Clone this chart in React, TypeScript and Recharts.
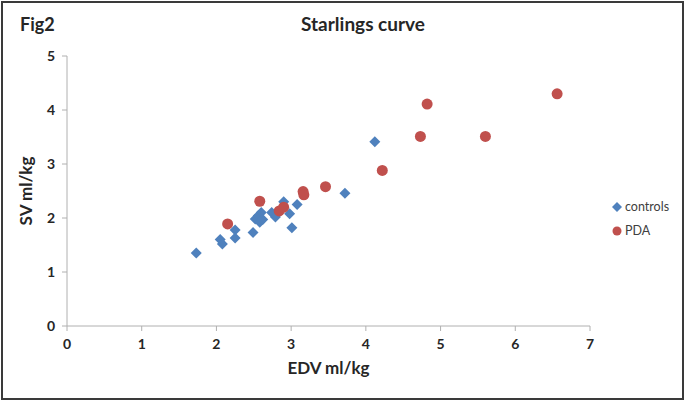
import React from 'react';
import { ScatterChart, Scatter, XAxis, YAxis, Label } from 'recharts';

const controlsEDV = [1.73, 2.05, 2.08, 2.25, 2.25, 2.49, 2.52, 2.56, 2.58, 2.62, 2.60, 2.74, 2.79, 2.90, 2.98, 3.01, 3.08, 3.72, 4.12];
const controlsSV = [1.35, 1.60, 1.52, 1.78, 1.63, 1.73, 1.98, 2.04, 1.92, 1.97, 2.10, 2.10, 2.02, 2.30, 2.08, 1.82, 2.25, 2.46, 3.41];
const pdaEDV = [2.15, 2.58, 2.84, 2.90, 3.16, 3.17, 3.46, 4.22, 4.73, 4.82, 5.60, 6.56];
const pdaSV = [1.89, 2.31, 2.13, 2.20, 2.49, 2.43, 2.58, 2.88, 3.51, 4.11, 3.51, 4.30];
const xTicks = [0, 1, 2, 3, 4, 5, 6, 7];
const yTicks = [0, 1, 2, 3, 4, 5];

const controls = controlsEDV.map((x, i) => ({ x, y: controlsSV[i] }));
const pda = pdaEDV.map((x, i) => ({ x, y: pdaSV[i] }));

const BLUE = '#4F81BD';
const RED = '#C0504D';
const FONT = 'Lato, "Open Sans", sans-serif';

const Diamond = (props: any) => {
  const { cx, cy } = props;
  const r = 5.5;
  return <polygon points={`${cx},${cy - r} ${cx + r},${cy} ${cx},${cy + r} ${cx - r},${cy}`} fill={BLUE} />;
};
const Dot = (props: any) => {
  const { cx, cy } = props;
  return <circle cx={cx} cy={cy} r={5.5} fill={RED} />;
};

const tickStyle = { fontFamily: FONT, fontSize: 14, fontWeight: 700, fill: '#262626' };

export default function App() {
  return (
    <div style={{ position: 'absolute', left: 0, top: 0, width: 685, height: 401, background: '#fff', fontFamily: FONT }}>
      <ScatterChart width={685} height={401} margin={{ top: 56, right: 95, bottom: 35, left: 17 }}>
        <XAxis
          type="number"
          dataKey="x"
          domain={[0, 7]}
          ticks={xTicks}
          interval={0}
          stroke="#b0b0b0"
          tickSize={5}
          tickMargin={8}
          tick={tickStyle}
          height={40}
        >
          <Label value="EDV ml/kg" position="bottom" offset={-4} style={{ fontFamily: FONT, fontSize: 17, fontWeight: 700, fill: '#262626' }} />
        </XAxis>
        <YAxis
          type="number"
          dataKey="y"
          domain={[0, 5]}
          ticks={yTicks}
          interval={0}
          stroke="#b0b0b0"
          tickSize={5}
          tickMargin={7}
          tick={tickStyle}
          width={50}
        >
          <Label value="SV ml/kg" angle={-90} position="insideLeft" offset={9} style={{ textAnchor: 'middle', fontFamily: FONT, fontSize: 17, fontWeight: 700, fill: '#262626' }} />
        </YAxis>
        <Scatter name="controls" data={controls} shape={Diamond} isAnimationActive={false} />
        <Scatter name="PDA" data={pda} shape={Dot} isAnimationActive={false} />
      </ScatterChart>
      <div style={{ position: 'absolute', left: 20, top: 13, fontSize: 18, fontWeight: 700, color: '#262626' }}>Fig2</div>
      <div style={{ position: 'absolute', left: 0, width: 726, top: 12, textAlign: 'center', fontSize: 19, fontWeight: 700, color: '#262626' }}>Starlings curve</div>
      <div style={{ position: 'absolute', left: 612, top: 195, fontSize: 12.5, color: '#404040', lineHeight: '24px' }}>
        <div style={{ display: 'flex', alignItems: 'center' }}>
          <svg width={10} height={10} style={{ marginRight: 3 }}><polygon points="5,0 10,5 5,10 0,5" fill={BLUE} /></svg>
          controls
        </div>
        <div style={{ display: 'flex', alignItems: 'center' }}>
          <svg width={10} height={10} style={{ marginRight: 3 }}><circle cx={5} cy={5} r={4.5} fill={RED} /></svg>
          PDA
        </div>
      </div>
      <div style={{ position: 'absolute', left: 1, top: 1, width: 683, height: 399, boxSizing: 'border-box', border: '2px solid #3a3a3a', pointerEvents: 'none' }} />
    </div>
  );
}
